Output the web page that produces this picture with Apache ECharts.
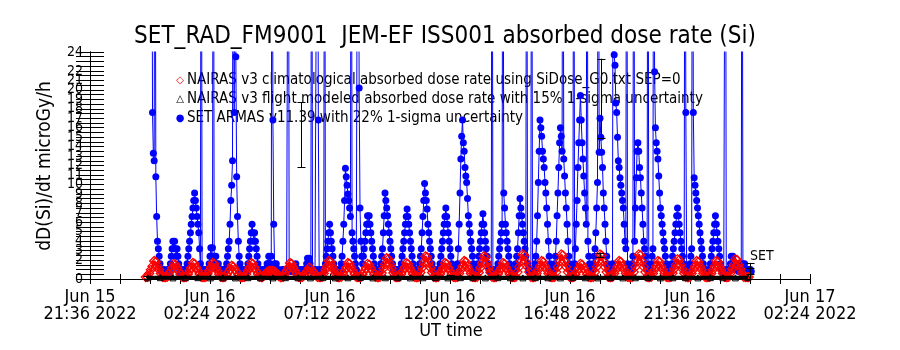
<!DOCTYPE html>
<html>
<head>
<meta charset="utf-8">
<script src="https://cdn.jsdelivr.net/npm/echarts@6/dist/echarts.min.js"></script>
<style>
html,body{margin:0;padding:0;background:#fff;}
#chart{width:900px;height:350px;}
</style>
</head>
<body>
<div id="chart"></div>
<script>
// ---------------- data ----------------
// Axis: Jun 15 21:36 UT 2022 -> Jun 17 02:24, ticks every 4h48m
const xTickLabels = ['Jun 15\n21:36 2022','Jun 16\n02:24 2022','Jun 16\n07:12 2022','Jun 16\n12:00 2022','Jun 16\n16:48 2022','Jun 16\n21:36 2022','Jun 17\n02:24 2022'];
const yTickLabels = ['0','1','2','3','4','5','6','7','8','9','10','11','12','13','14','15','16','17','18','19','20','21','22','23','24'];

// start time of each half-orbit segment (UT)
const segStart = ['2022-06-15 23:50','2022-06-16 00:37','2022-06-16 01:23','2022-06-16 02:10','2022-06-16 02:56','2022-06-16 03:43','2022-06-16 04:29','2022-06-16 05:16','2022-06-16 06:02','2022-06-16 06:49','2022-06-16 07:35','2022-06-16 08:22','2022-06-16 09:08','2022-06-16 09:55','2022-06-16 10:41','2022-06-16 11:28','2022-06-16 12:14','2022-06-16 13:01','2022-06-16 13:47','2022-06-16 14:34','2022-06-16 15:20','2022-06-16 16:07','2022-06-16 16:53','2022-06-16 17:40','2022-06-16 18:26','2022-06-16 19:13','2022-06-16 19:59','2022-06-16 20:46','2022-06-16 21:32','2022-06-16 22:19','2022-06-16 23:05'];

// SET ARMAS v11.39 dose rate, 2-minute samples inside each segment
const blueSeg = [
 ['-','-','-','-','-','-','-',60,17.6,13.3,12.5,60,10.8,6.6,4,3.2,2.4,1.6,1,0.8,0.6,0.8,1],
 [0.8,0.6,0.8,1,0.8,1,1.6,2.4,3.2,4,3.2,4,3.2,2.4,3.2,2.4,1.6,1,0.8,0.6,0.8,1,0.8],
 [0.8,1,0.8,1.6,2.4,3.2,4,4.9,5.8,6.6,7.5,8.3,9.1,8.3,7.5,6.6,5.8,4.9,3.2,1.6,60,1,0.8],
 [0.8,1,0.8,1,0.8,1,1.6,2.4,3.3,2.4,3.3,60,2.4,1.6,2.4,1.6,1,1.6,1,0.8,1,0.8,1],
 [0.8,1,0.8,1,1.6,2.4,3.2,4,5.8,8.3,9.9,12.5,60,17.6,60,23.5,10.8,6.6,4,2.4,1.6,1,0.8],
 [0.8,1,0.8,0.6,0.8,1,1.6,2.4,3.2,4,4.9,5.8,4.9,4,4.9,4,3.2,2.4,1.6,1,0.8,1,0.8],
 [0.8,1,0.8,1,0.8,1,1.6,1.6,2.4,1.6,1.6,2.4,60,16.8,5.8,1.6,1,1.6,1,0.8,1,0.8,0.6],
 [0.8,1,0.8,1,0.8,1,0.8,1,60,1,0.8,1,0.8,1,0.8,1,0.8,1.6,1,0.8,1,0.8,1],
 [0.8,1,0.8,1,0.8,1,0.8,1.6,2.2,1.6,2.2,1.6,1,60,1,0.8,1,0.8,1,0.8,60,16.8,1],
 [0.8,1,0.8,1,0.8,60,1.6,2.4,3.2,4,4.9,5.8,4.9,4,3.2,2.4,1.6,1,0.8,1,0.8,1,0.8],
 [0.8,1,1.6,2.4,4,5.8,8.3,11.7,10.8,9.9,9,8.3,7.5,6.6,60,4.9,4,3.2,2.4,1.6,1,0.8,60],
 [20.2,7.5,4,2.4,1.6,2.4,3.2,4,4.9,5.8,6.7,5.8,6.7,5.8,4.9,4,3.2,2.4,1.6,1,0.8,1,0.8],
 [0.8,1,0.8,1.6,2.4,3.2,4.9,6.7,9.1,8.3,7.5,6.7,5.8,4.9,4,3.2,2.4,1.6,1,0.8,1,0.8,1],
 [0.8,1,0.8,1,1.6,2.4,3.2,4,4.9,5.8,6.6,7.4,6.6,5.8,4.9,4,3.2,2.4,1.6,1,0.8,1,0.8],
 [0.8,1,0.8,1.6,2.4,3.2,4.9,6.6,8.3,10.1,9.1,8.3,7.4,5.8,4.9,4,3.2,2.4,1.6,1,0.8,1,0.8],
 [0.8,1,0.8,1,1.6,2.4,3.2,4,4.9,5.8,6.6,7.5,6.6,5.8,4.9,4,3.2,2.4,1.6,1,0.8,1,0.8],
 [0.8,1,1.6,3.2,5.8,9.1,12.7,15.1,16.8,14.4,13.5,11.8,10.9,10.2,8.5,6.7,5.8,4.9,4,3.2,2.4,1.6,1],
 [0.8,1,0.8,1.6,2.4,3.2,4,4.9,5.8,6.9,5.8,4.9,4,3.2,2.4,1.6,1,0.8,1,0.8,60,1,0.8],
 [0.8,1,0.8,1,1.6,2.4,3.2,4,4.9,5.8,60,9.1,7.5,5.8,4.9,4,3.2,2.4,1.6,1,0.8,1,0.8],
 [0.8,1,1.6,2.4,3.2,4.9,6.7,8.5,7.5,6.7,5.8,4.9,4,3.2,2.4,60,1.6,1,0.8,1,0.8,60,0.8],
 [0.8,1,1.6,2.4,4,6.7,10.2,13.5,16.8,16,15.1,13.5,12.7,11.8,10.2,9.1,7.5,5.8,4,2.4,1.6,1,0.8],
 [0.8,1,1.6,2.4,4,6.7,9.1,11.8,14.4,16,15.1,13.5,60,12.7,10.9,9.1,7.5,5.8,4,2.4,1.6,1,0.8],
 [0.8,1,60,1.6,3.2,5.8,8.3,11.8,14.4,16.8,19.4,16.8,14.4,12.7,10.9,9.1,7.5,5.8,60,4,2.4,1.6,1],
 [0.8,1,1.6,2.4,3.2,4.9,7.5,10.2,60,13.4,17,15,13.4,11.8,9.1,7.5,5.8,4,2.4,1.6,1,0.8,1],
 [0.8,1,1.6,60,23.7,22.6,18.6,17.6,15,12.5,11.8,10.7,9.9,9.1,8.3,7.5,5.8,4,3.2,60,1.6,1,0.8],
 [0.8,1,1.6,2.4,60,4,7.5,10.7,13.5,14.4,13.5,11.8,10.7,9.1,7.5,5.8,4,3.2,2.4,1.6,1,60,1],
 [0.8,1,1.6,2.4,3.2,60,21.9,16,14.4,13.5,12.7,10.9,9.1,7.5,6.7,5.8,4.9,4,3.2,2.4,1.6,1,0.8],
 [0.8,1,0.8,1.6,2.4,3.2,4,4.9,5.8,6.7,7.5,6.7,5.8,4.9,4,3.2,2.4,1.6,1,60,17.6,1,0.8],
 [0.8,1,1.6,2.4,3.2,60,17.6,10.7,9.9,9.1,8.3,7.5,6.7,5.8,4.9,4,3.2,2.4,1.6,1,0.8,1,0.8],
 [0.8,1,0.8,1.6,2.4,3.2,4,4.9,5.8,6.7,5.8,4.9,4,3.2,2.4,1.6,1,0.8,1,0.8,1,60,0.8],
 [0.8,1,0.8,1,1.6,2.4,1.6,2.4,1.6,1,1.6,1,1.6,1,0.8,1,1.6,1,60,1.6,1,1.6,1,0.8,1,0.8,1,0.8,1,0.8]
];

// NAIRAS v3 climatological dose rate, 4-minute samples inside each segment
const redSeg = [
 [0.2,0.22,0.57,0.97,1.36,1.9,1.8,1.36,0.97,0.57,0.22,0.2],
 [0.2,0.22,0.5,0.83,1.15,1.6,1.5,1.15,0.83,0.5,0.22,0.2],
 [0.2,0.22,0.53,0.88,1.22,1.7,1.6,1.22,0.88,0.53,0.22,0.2],
 [0.2,0.24,0.55,0.9,1.25,1.7,1.62,1.2,0.86,0.5,0.22,0.2],
 [0.2,0.22,0.46,0.74,1.02,1.4,1.3,1.02,0.74,0.46,0.22,0.2],
 [0.2,0.22,0.53,0.88,1.22,1.7,1.6,1.22,0.88,0.53,0.22,0.2],
 [0.2,0.3,0.55,0.75,0.85,0.85,0.85,0.85,0.75,0.55,0.3,0.2],
 [0.2,0.22,0.53,0.88,1.22,1.7,1.6,1.22,0.88,0.53,0.22,0.2],
 [0.2,0.22,0.42,0.65,0.88,1.2,1.1,0.88,0.65,0.42,0.22,0.2],
 [0.2,0.22,0.57,0.97,1.36,1.9,1.8,1.36,0.97,0.57,0.22,0.2],
 [0.2,0.22,0.53,0.88,1.22,1.7,1.6,1.22,0.88,0.53,0.22,0.2],
 [0.2,0.22,0.5,0.83,1.15,1.6,1.5,1.15,0.83,0.5,0.22,0.2],
 [0.2,0.22,0.64,1.1,1.56,2.2,2.1,1.56,1.1,0.64,0.22,0.2],
 [0.2,0.22,0.53,0.88,1.22,1.7,1.6,1.22,0.88,0.53,0.22,0.2],
 [0.2,0.22,0.68,1.19,1.7,2.4,2.3,1.7,1.19,0.68,0.22,0.2],
 [0.2,0.22,0.53,0.88,1.22,1.7,1.6,1.22,0.88,0.53,0.22,0.2],
 [0.2,0.22,0.57,0.97,1.36,1.9,1.8,1.36,0.97,0.57,0.22,0.2],
 [0.2,0.22,0.68,1.19,1.7,2.4,2.3,1.7,1.19,0.68,0.22,0.2],
 [0.2,0.22,0.53,0.88,1.22,1.7,1.6,1.22,0.88,0.53,0.22,0.2],
 [0.2,0.22,0.73,1.28,1.83,2.6,2.5,1.83,1.28,0.73,0.22,0.2],
 [0.2,0.22,0.57,0.97,1.36,1.9,1.8,1.36,0.97,0.57,0.22,0.2],
 [0.2,0.22,0.73,1.28,1.83,2.6,2.5,1.83,1.28,0.73,0.22,0.2],
 [0.2,0.22,0.5,0.83,1.15,1.6,1.5,1.15,0.83,0.5,0.22,0.2],
 [0.2,0.22,0.73,1.28,1.83,2.6,2.5,1.83,1.28,0.73,0.22,0.2],
 [0.2,0.22,0.57,0.97,1.36,1.9,1.8,1.36,0.97,0.57,0.22,0.2],
 [0.2,0.22,0.73,1.28,1.83,2.6,2.5,1.83,1.28,0.73,0.22,0.2],
 [0.2,0.22,0.57,0.97,1.36,1.9,1.8,1.36,0.97,0.57,0.22,0.2],
 [0.2,0.22,0.62,1.06,1.49,2.1,2.0,1.49,1.06,0.62,0.22,0.2],
 [0.2,0.22,0.57,0.97,1.36,1.9,1.8,1.36,0.97,0.57,0.22,0.2],
 [0.2,0.22,0.57,0.97,1.36,1.9,1.8,1.36,0.97,0.57,0.22,0.2],
 [0.2,0.22,0.62,1.06,1.49,2.1,2.0,1.49,1.06,0.62,0.22,0.2,0.2,0.2]
];

// NAIRAS v3 flight-modeled dose rate, every 30 minutes from 23:55
const blackStart = '2022-06-15 23:55';
const blackVals = [0.12,0.14,0.12,0.13,0.14,0.12,0.13,0.12,0.14,0.13,0.12,0.14,0.13,0.12,0.14,0.12,0.13,0.14,0.12,0.13,0.14,0.12,0.13,0.14,0.12,0.14,0.13,0.12,0.14,0.13,0.12,0.14,0.13,0.12,0.14,0.13,0.12,0.14,0.12,0.13,0.14,0.12,0.13,0.14,0.12,0.14,0.13,0.12,0.14];

// 1-sigma error bars of the flight-modeled dose rate
const errTime = ['2022-06-15 23:53','2022-06-16 06:02','2022-06-16 12:00','2022-06-16 18:02','2022-06-16 18:00','2022-06-17 00:01','2022-06-17 00:01'];
const errLow  = [0, 11.8, 0, 14.9, 2.3, 0.5, 0.0];
const errHigh = [0.35, 18.7, 0.4, 23.3, 2.7, 1.7, 1.2];

// ---------------- build ----------------
const T0 = Date.UTC(2022, 5, 15, 21, 36);
function toMin(s) {
  const [d, t] = s.split(' ');
  const [Y, M, D] = d.split('-').map(Number);
  const [h, m] = t.split(':').map(Number);
  return (Date.UTC(Y, M - 1, D, h, m) - T0) / 60000;
}
const blueData = [];
blueSeg.forEach((arr, k) => { const t0 = toMin(segStart[k]); arr.forEach((v, i) => blueData.push([t0 + 2 * i, v])); });
const redData = [];
redSeg.forEach((arr, k) => { const t0 = toMin(segStart[k]); arr.forEach((v, i) => redData.push([t0 + 4 * i, v])); });
const blackData = blackVals.map((v, i) => [toMin(blackStart) + 30 * i, v]);
const errData = errTime.map((t, i) => [toMin(t), errLow[i], errHigh[i]]);

const FONT = "'DejaVu Sans Condensed', 'DejaVu Sans', sans-serif";
const chart = echarts.init(document.getElementById('chart'), null, {renderer: 'canvas'});

const axisLineStyle = {lineStyle: {color: '#000', width: 1}};
const xCommon = {
  type: 'value', min: 0, max: 1728, interval: 288,
  axisLine: axisLineStyle, splitLine: {show: false},
  axisTick: {inside: true, length: 5, lineStyle: {color: '#000'}},
  minorTick: {show: true, splitNumber: 4, length: 5, lineStyle: {color: '#000'}},
  minorSplitLine: {show: false}
};
const yCommon = {
  type: 'value', min: 0, max: 24, interval: 1,
  axisLine: {show: true, lineStyle: {color: '#000', width: 1}}, splitLine: {show: false},
  axisTick: {show: true, inside: true, length: 14, lineStyle: {color: '#000'}},
  minorTick: {show: true, splitNumber: 2, length: 14, lineStyle: {color: '#000'}},
  minorSplitLine: {show: false}
};

chart.setOption({
  animation: false,
  backgroundColor: '#fff',
  grid: {left: 90, right: 90, top: 52, bottom: 71, containLabel: false},
  xAxis: [
    Object.assign({}, xCommon, {position: 'bottom',
      axisLabel: {color: '#000', fontFamily: FONT, fontSize: 18, lineHeight: 17, margin: 10,
        showMinLabel: true, showMaxLabel: true,
        formatter: v => xTickLabels[Math.round(v / 288)] || ''}}),
    Object.assign({}, xCommon, {position: 'top', axisLabel: {show: false}})
  ],
  yAxis: [
    Object.assign({}, yCommon, {position: 'left',
      axisLabel: {color: '#000', fontFamily: FONT, fontSize: 14, margin: 7,
        showMinLabel: true, showMaxLabel: true, hideOverlap: false,
        formatter: v => yTickLabels[Math.round(v)] || ''}}),
    Object.assign({}, yCommon, {position: 'right', axisLabel: {show: false}})
  ],
  series: [
    {
      name: 'SET ARMAS v11.39', type: 'line', data: blueData, z: 2,
      symbol: 'circle', symbolSize: 7, showSymbol: true, showAllSymbol: true,
      itemStyle: {color: '#0000ff'}, lineStyle: {color: '#0000ff', width: 1},
      connectNulls: false, clip: true
    },
    {
      name: 'NAIRAS v3 climatological', type: 'line', data: redData, z: 3,
      symbol: 'diamond', symbolSize: 9, showAllSymbol: true,
      itemStyle: {color: 'rgba(0,0,0,0)', borderColor: '#ff0000', borderWidth: 1.3},
      lineStyle: {color: '#ff0000', width: 2.5}, clip: true
    },
    {
      name: 'NAIRAS v3 flight', type: 'line', data: blackData, z: 4,
      symbol: 'triangle', symbolSize: 6, showAllSymbol: true,
      itemStyle: {color: 'rgba(0,0,0,0)', borderColor: '#000', borderWidth: 1},
      lineStyle: {color: '#000', width: 4}, clip: false
    },
    {
      name: 'error', type: 'custom', data: errData, z: 5,
      encode: {x: 0, y: [1, 2]},
      renderItem: function (params, api) {
        const x = api.value(0);
        const p1 = api.coord([x, api.value(1)]);
        const p2 = api.coord([x, api.value(2)]);
        const cx = Math.round(p1[0]) + 0.5, w = 4;
        const st = {stroke: '#000', lineWidth: 1};
        return {type: 'group', children: [
          {type: 'line', shape: {x1: cx, y1: p1[1], x2: cx, y2: p2[1]}, style: st},
          {type: 'line', shape: {x1: cx - w, y1: Math.round(p1[1]) + 0.5, x2: cx + w, y2: Math.round(p1[1]) + 0.5}, style: st},
          {type: 'line', shape: {x1: cx - w, y1: Math.round(p2[1]) + 0.5, x2: cx + w, y2: Math.round(p2[1]) + 0.5}, style: st}
        ]};
      }
    }
  ],
  graphic: [
    {type: 'text', x: 445, y: 37, style: {text: 'SET_RAD_FM9001  JEM-EF ISS001 absorbed dose rate (Si)', font: '24px ' + FONT, fill: '#000', align: 'center', verticalAlign: 'middle'}},
    {type: 'text', x: 45, y: 166, rotation: Math.PI / 2, style: {text: 'dD(Si)/dt microGy/h', font: '19px ' + FONT, fill: '#000', align: 'center', verticalAlign: 'middle'}},
    {type: 'text', x: 451, y: 331, style: {text: 'UT time', font: '18px ' + FONT, fill: '#000', align: 'center', verticalAlign: 'middle'}},
    {type: 'text', x: 180, y: 80, style: {text: '◇', font: '10px DejaVu Sans', fill: '#ff0000', align: 'center', verticalAlign: 'middle'}},
    {type: 'text', x: 187, y: 80, style: {text: 'NAIRAS v3 climatological absorbed dose rate using SiDose_G0.txt SEP=0', font: '15px ' + FONT, fill: '#000', align: 'left', verticalAlign: 'middle'}},
    {type: 'text', x: 180, y: 99, style: {text: '△', font: '10px DejaVu Sans', fill: '#000', align: 'center', verticalAlign: 'middle'}},
    {type: 'text', x: 187, y: 99, style: {text: 'NAIRAS v3 flight modeled absorbed dose rate with 15% 1-sigma uncertainty', font: '15px ' + FONT, fill: '#000', align: 'left', verticalAlign: 'middle'}},
    {type: 'text', x: 180, y: 118, style: {text: '●', font: '10px DejaVu Sans', fill: '#0000ff', align: 'center', verticalAlign: 'middle'}},
    {type: 'text', x: 187, y: 118, style: {text: 'SET ARMAS v11.39 with 22% 1-sigma uncertainty', font: '15px ' + FONT, fill: '#000', align: 'left', verticalAlign: 'middle'}},
    {type: 'text', x: 750, y: 256, style: {text: 'SET', font: '14px ' + FONT, fill: '#000', align: 'left', verticalAlign: 'middle'}}
  ]
});
</script>
</body>
</html>
